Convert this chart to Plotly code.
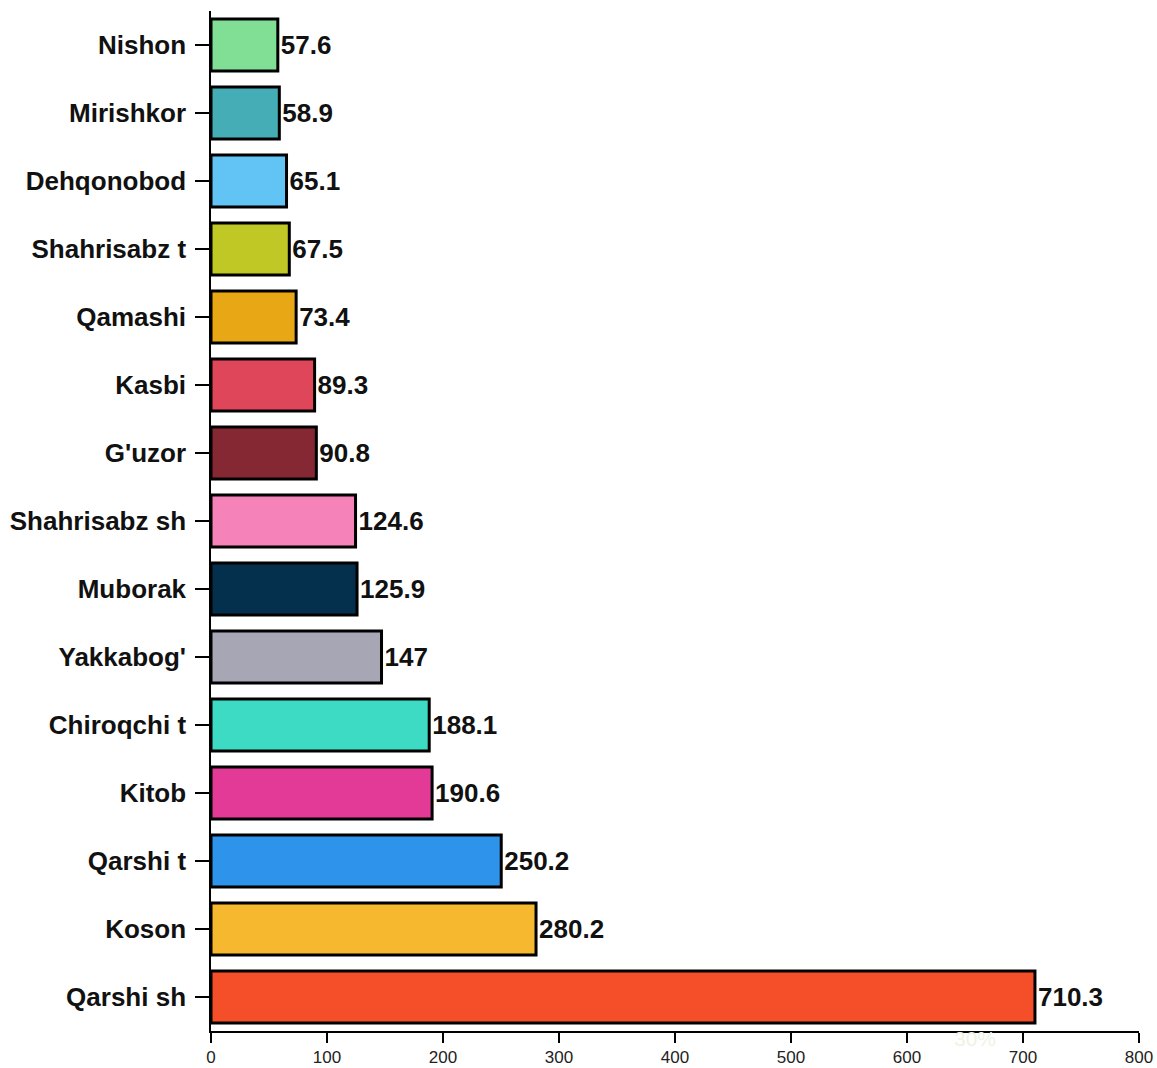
import plotly.graph_objects as go

categories = ["Nishon", "Mirishkor", "Dehqonobod", "Shahrisabz t", "Qamashi", "Kasbi",
              "G'uzor", "Shahrisabz sh", "Muborak", "Yakkabog'", "Chiroqchi t", "Kitob",
              "Qarshi t", "Koson", "Qarshi sh"]
values = [57.6, 58.9, 65.1, 67.5, 73.4, 89.3, 90.8, 124.6, 125.9, 147, 188.1, 190.6,
          250.2, 280.2, 710.3]
colors = ["#80DE95", "#45ADB5", "#62C4F5", "#BFC824", "#E8A816", "#E0465A", "#862833",
          "#F582B9", "#04304D", "#A7A6B5", "#3DDBC4", "#E33A98", "#2E93EA", "#F5B82E",
          "#F54F2A"]
x_ticks = [0, 100, 200, 300, 400, 500, 600, 700, 800]

FONT = "Liberation Sans, Arial"

fig = go.Figure(go.Bar(
    x=values, y=categories, orientation="h",
    marker=dict(color=colors, line=dict(color="black", width=3)),
    text=[f"{v:g}" for v in values], textposition="outside", cliponaxis=False,
    textfont=dict(family=FONT, size=26, color="#111111", weight="bold"),
    width=0.765,
))

fig.update_layout(
    width=1157, height=1068,
    margin=dict(l=211, r=18, t=11, b=37, autoexpand=False),
    plot_bgcolor="white", paper_bgcolor="white",
    showlegend=False,
    xaxis=dict(range=[0, 800], tickvals=x_ticks, showgrid=False, zeroline=False,
               showline=True, linecolor="black", linewidth=1.5, ticks="outside",
               ticklen=10, tickwidth=1.5, tickcolor="black",
               tickfont=dict(family=FONT, size=17, color="#222222")),
    yaxis=dict(categoryorder="array", categoryarray=categories, range=[14.5, -0.5],
               showgrid=False, zeroline=False, showline=True, linecolor="black",
               linewidth=1.5, ticks="outside", ticklen=14, tickwidth=1.5, tickcolor="black",
               ticklabelstandoff=4, automargin=False,
               tickfont=dict(family=FONT, size=26, color="#111111", weight="bold")),
    annotations=[dict(text="30%", xref="paper", yref="paper", x=0.823, y=-0.007,
                      xanchor="center", yanchor="middle",
                      showarrow=False, font=dict(family=FONT, size=21, color="#EEF3E4"))],
)

fig.write_html("out.html", config={"displayModeBar": False},
               post_script="document.body.style.margin='0';document.body.style.overflow='hidden';")
